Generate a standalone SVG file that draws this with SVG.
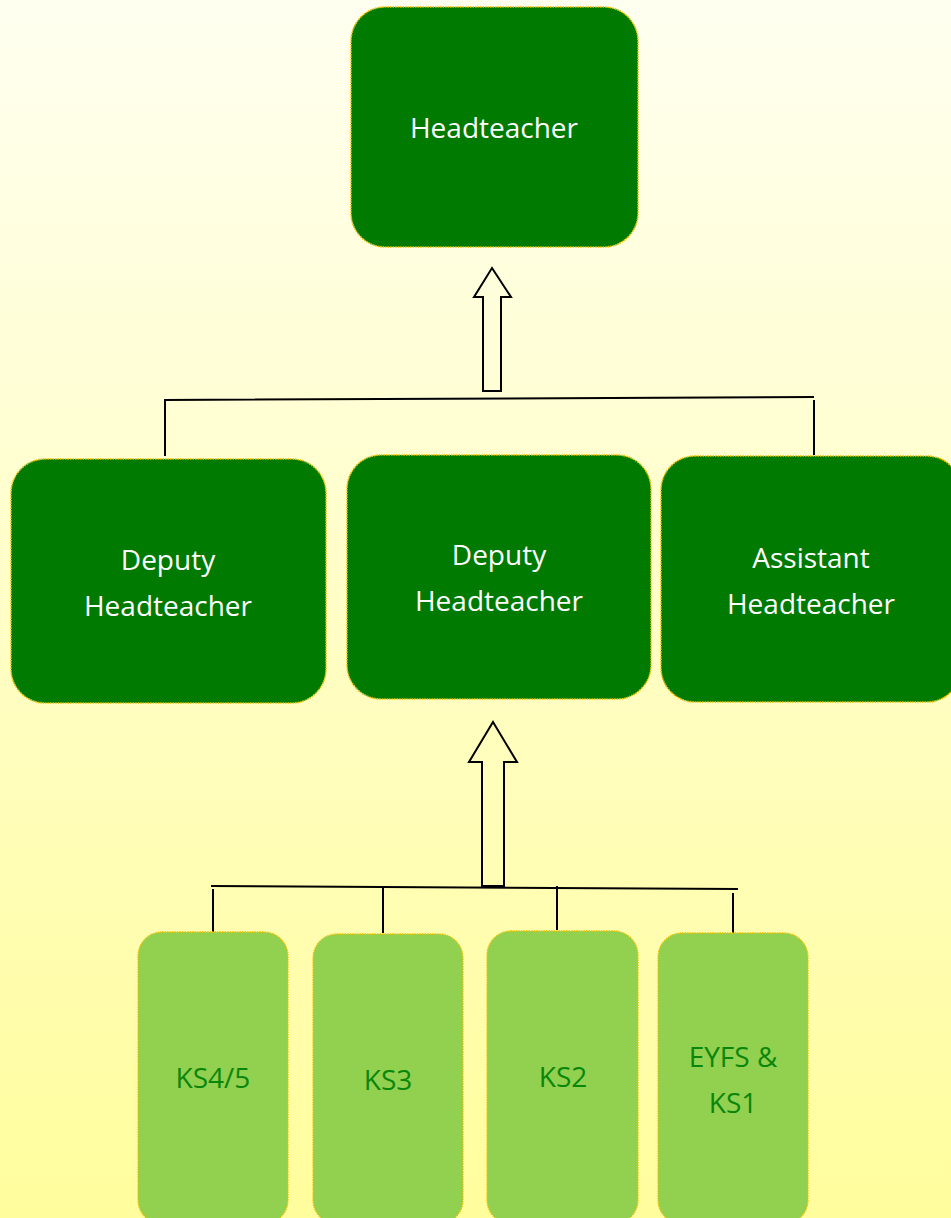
<svg xmlns="http://www.w3.org/2000/svg" width="951" height="1218" viewBox="0 0 951 1218">
<defs>
<linearGradient id="bg" x1="0" y1="0" x2="0" y2="1">
<stop offset="0" stop-color="#FFFFF0"/>
<stop offset="1" stop-color="#FFFD9C"/>
</linearGradient>
<style>
.top{fill:#007A00;stroke:#E8C000;stroke-width:1.6;stroke-dasharray:1.5 1}
.low{fill:#92D050;stroke:#F0C000;stroke-width:1.3;stroke-dasharray:1.5 1}
.tw{font-family:"Open Sans","Liberation Sans",sans-serif;font-size:28px;fill:#FFFFFF;text-anchor:middle}
.tg{font-family:"Open Sans","Liberation Sans",sans-serif;font-size:28px;fill:#0A870A;text-anchor:middle}
.ln{stroke:#000;stroke-width:2;fill:none}
.ar{stroke:#000;stroke-width:2;fill:none;stroke-linejoin:miter}
</style>
</defs>
<rect x="0" y="0" width="951" height="1218" fill="url(#bg)"/>
<g id="connectors">
<path class="ar" d="M492,268 L511,297 L501,297 L501,391 L483,391 L483,297 L474,297 Z"/>
<path class="ln" d="M165,456 L165,400 L814,397"/>
<path class="ln" d="M814,400 L814,455"/>
<path class="ar" d="M493,722 L517,762 L504,762 L504,886 L482,886 L482,762 L469,762 Z"/>
<path class="ln" d="M211,886 L738,889"/>
<path class="ln" d="M213,889 L213,933"/>
<path class="ln" d="M383,888 L383,933"/>
<path class="ln" d="M557,886 L557,930"/>
<path class="ln" d="M733,893 L733,938"/>
</g>
<g id="headteacher">
<rect class="top" x="351" y="7" width="287" height="240" rx="34"/>
<text class="tw" x="494" y="138">Headteacher</text>
</g>
<g id="deputy1">
<rect class="top" x="11" y="459" width="315" height="244" rx="34"/>
<text class="tw" x="168" y="570">Deputy</text>
<text class="tw" x="168" y="616">Headteacher</text>
</g>
<g id="deputy2">
<rect class="top" x="347" y="455" width="304" height="244" rx="34"/>
<text class="tw" x="499" y="565">Deputy</text>
<text class="tw" x="499" y="611">Headteacher</text>
</g>
<g id="assistant">
<rect class="top" x="661" y="456" width="300" height="246" rx="34"/>
<text class="tw" x="811" y="568">Assistant</text>
<text class="tw" x="811" y="614">Headteacher</text>
</g>
<g id="ks45">
<rect class="low" x="138" y="932" width="150" height="292" rx="24"/>
<text class="tg" x="213" y="1088">KS4/5</text>
</g>
<g id="ks3">
<rect class="low" x="313" y="934" width="150" height="290" rx="24"/>
<text class="tg" x="388" y="1090">KS3</text>
</g>
<g id="ks2">
<rect class="low" x="487" y="931" width="151" height="293" rx="24"/>
<text class="tg" x="563" y="1087">KS2</text>
</g>
<g id="eyfs">
<rect class="low" x="658" y="933" width="150" height="291" rx="24"/>
<text class="tg" x="733" y="1067">EYFS &amp;</text>
<text class="tg" x="733" y="1113">KS1</text>
</g>
</svg>
